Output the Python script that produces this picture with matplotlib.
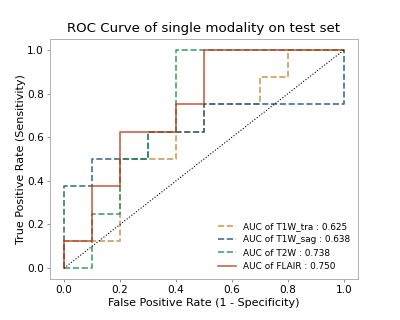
import matplotlib
matplotlib.use("Agg")
import matplotlib.pyplot as plt

fpr_tra = [0, 0, 0.2, 0.2, 0.4, 0.4, 0.5, 0.5, 0.7, 0.7, 0.8, 0.8, 1.0]
tpr_tra = [0, 0.125, 0.125, 0.5, 0.5, 0.625, 0.625, 0.75, 0.75, 0.875, 0.875, 1.0, 1.0]
fpr_sag = [0, 0, 0.1, 0.1, 0.3, 0.3, 0.5, 0.5, 1.0, 1.0]
tpr_sag = [0, 0.375, 0.375, 0.5, 0.5, 0.625, 0.625, 0.75, 0.75, 1.0]
fpr_t2w = [0, 0.1, 0.1, 0.2, 0.2, 0.3, 0.3, 0.4, 0.4, 1.0]
tpr_t2w = [0, 0, 0.25, 0.25, 0.5, 0.5, 0.625, 0.625, 1.0, 1.0]
fpr_flair = [0, 0, 0.1, 0.1, 0.2, 0.2, 0.4, 0.4, 0.5, 0.5, 1.0]
tpr_flair = [0, 0.125, 0.125, 0.375, 0.375, 0.625, 0.625, 0.75, 0.75, 1.0, 1.0]
labels = ["AUC of T1W_tra : 0.625", "AUC of T1W_sag : 0.638",
          "AUC of T2W : 0.738", "AUC of FLAIR : 0.750"]

fig, ax = plt.subplots(figsize=(5, 4), dpi=80)
fig.subplots_adjust(left=0.125, right=0.895, top=0.878, bottom=0.128)
ax.plot(fpr_tra, tpr_tra, ls="--", color="#cc8a3c", lw=1.5, alpha=0.85, label=labels[0])
ax.plot(fpr_sag, tpr_sag, ls="--", color="#1c5a80", lw=1.5, alpha=0.85, label=labels[1])
ax.plot(fpr_t2w, tpr_t2w, ls="--", color="#239550", lw=1.5, alpha=0.85, label=labels[2])
ax.plot(fpr_flair, tpr_flair, ls="-", color="#bf3a1a", lw=1.5, alpha=0.8, label=labels[3])
ax.plot([0, 1], [0, 1], ls=":", color="black", lw=1.0)

ax.set_title("ROC Curve of single modality on test set", fontsize=12)
ax.set_xlabel("False Positive Rate (1 - Specificity)", fontsize=10, labelpad=3)
ax.set_ylabel("True Positive Rate (Sensitivity)", fontsize=10, labelpad=1)
ax.tick_params(labelsize=9.5, color="#888888", length=3, pad=2.5)
for s in ax.spines.values():
    s.set_color("#aaaaaa")
ax.legend(loc="lower right", fontsize=8, frameon=False)
fig.savefig("out.png")
